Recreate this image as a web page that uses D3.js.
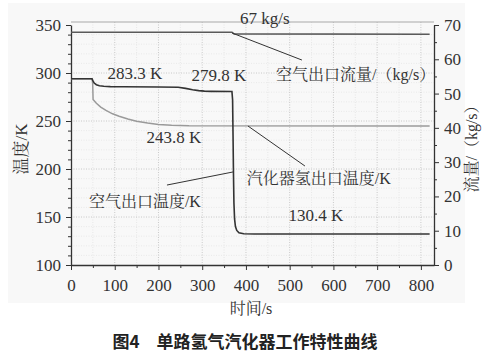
<!DOCTYPE html>
<html><head><meta charset="utf-8">
<script src="https://cdn.jsdelivr.net/npm/d3@7/dist/d3.min.js"></script>
<style>body{margin:0;background:#fff}svg{display:block}</style>
</head><body><svg id="c" width="496" height="362"></svg>
<script>
// ---- data ----
const h2Time = [0, 48, 50, 53, 58, 65, 75, 90, 120, 200, 245, 262, 278, 292, 305, 320, 368, 369.5, 370.5, 371.5, 372.5, 374, 376, 379, 384, 395, 420, 820];
const h2Temp = [294, 294, 292, 289.5, 287.8, 286.8, 286.2, 285.8, 285.6, 285.4, 285.1, 284, 282.6, 281.6, 281.1, 280.9, 280.7, 272, 235, 195, 165, 148, 140, 136, 133.5, 132.6, 132.3, 132.3];
const airTime = [0, 48, 49.5, 50.5, 58, 68, 80, 95, 110, 130, 150, 175, 200, 230, 270, 820];
const airTemp = [294, 294, 290, 272.5, 268.5, 264.5, 261, 257.5, 255, 252, 249.8, 247.8, 246.4, 245.5, 245, 244.8];
const flowTime = [0, 368, 373, 820];
const flowRate = [67.9, 67.9, 67.4, 67.3];
const xTicks = [0, 100, 200, 300, 400, 500, 600, 700, 800];
const leftTicks = [100, 150, 200, 250, 300, 350];
const rightTicks = [0, 10, 20, 30, 40, 50, 60, 70];
const valueLabels = ["67 kg/s", "283.3 K", "279.8 K", "243.8 K", "130.4 K"];
const seriesLabels = ["空气出口流量/（kg/s）", "汽化器氢出口温度/K", "空气出口温度/K"];
const axisTitles = ["温度/K", "流量/（kg/s）", "时间/s"];
const caption = "图4　单路氢气汽化器工作特性曲线";

// ---- layout ----
const svg = d3.select("#c");
const L = 71, R = 434, T = 25, B = 265;
const x = d3.scaleLinear().domain([0, 830]).range([L, R]);
const y = d3.scaleLinear().domain([100, 350]).range([B, T]);
const yR = d3.scaleLinear().domain([0, 70]).range([B, T]);
const txt = "#333";
const SF = '"Liberation Serif", "Noto Serif CJK SC"';

svg.append("rect").attr("x", 8).attr("y", 3).attr("width", 457).attr("height", 300).attr("fill", "#f8f8f8");

// grid
const g = svg.append("g");
g.selectAll(".vm").data(d3.range(50, 830, 100)).join("line")
  .attr("x1", d => x(d)).attr("x2", d => x(d)).attr("y1", T - 3).attr("y2", B)
  .attr("stroke", "#e2e2e2").attr("stroke-width", 0.8).attr("stroke-dasharray", "1,1.5");
g.selectAll(".hm").data(d3.range(110, 351, 10).filter(v => v % 50)).join("line")
  .attr("x1", L).attr("x2", R).attr("y1", d => y(d)).attr("y2", d => y(d))
  .attr("stroke", "#e6e6e6").attr("stroke-width", 0.8).attr("stroke-dasharray", "1,1.5");
g.selectAll(".vM").data(xTicks.slice(1)).join("line")
  .attr("x1", d => x(d)).attr("x2", d => x(d)).attr("y1", T - 3).attr("y2", B)
  .attr("stroke", "#c4c4c4").attr("stroke-width", 0.9).attr("stroke-dasharray", "1,1.5");
g.selectAll(".hM").data(leftTicks.slice(1, -1)).join("line")
  .attr("x1", L).attr("x2", R).attr("y1", d => y(d)).attr("y2", d => y(d))
  .attr("stroke", "#c4c4c4").attr("stroke-width", 0.9).attr("stroke-dasharray", "1,1.5");
svg.append("line").attr("x1", L).attr("x2", R).attr("y1", T - 3).attr("y2", T - 3).attr("stroke", "#a8a8a8").attr("stroke-width", 1);

// axes
function styleAxis(sel) {
  sel.attr("font-family", null).attr("font-size", null);
  sel.selectAll("path").attr("stroke", "#333").attr("stroke-width", 1.3);
  sel.selectAll("line").attr("stroke", "#333").attr("stroke-width", 1);
  sel.selectAll("text").style("font-family", SF).style("font-size", "17px").attr("fill", txt);
}
const xMinor = svg.append("g").attr("transform", `translate(0,${B})`)
  .call(d3.axisBottom(x).tickValues(d3.range(50, 830, 100)).tickSize(3).tickFormat("")).call(styleAxis);
xMinor.select("path").remove();
svg.append("g").attr("transform", `translate(0,${B})`)
  .call(d3.axisBottom(x).tickValues(xTicks).tickSize(5).tickSizeOuter(0).tickPadding(9).tickFormat(d3.format("d"))).call(styleAxis);

const yMinor = svg.append("g").attr("transform", `translate(${L},0)`)
  .call(d3.axisLeft(y).tickValues(d3.range(110, 351, 10).filter(v => v % 50)).tickSize(3).tickFormat("")).call(styleAxis);
yMinor.select("path").remove();
svg.append("g").attr("transform", `translate(${L},0)`)
  .call(d3.axisLeft(y).tickValues(leftTicks).tickSize(5).tickSizeOuter(0).tickPadding(5)).call(styleAxis);

const rMinor = svg.append("g").attr("transform", `translate(${R},0)`)
  .call(d3.axisRight(yR).tickValues(d3.range(5, 70, 10)).tickSize(3).tickFormat("")).call(styleAxis);
rMinor.select("path").remove();
svg.append("g").attr("transform", `translate(${R},0)`)
  .call(d3.axisRight(yR).tickValues(rightTicks).tickSize(5).tickSizeOuter(0).tickPadding(5)).call(styleAxis);

// series
const lineT = d3.line().x(d => x(d[0])).y(d => y(d[1]));
const lineR = d3.line().x(d => x(d[0])).y(d => yR(d[1]));
svg.append("path").datum(flowTime.map((t, i) => [t, flowRate[i]])).attr("d", lineR)
  .attr("fill", "none").attr("stroke", "#5a5a5a").attr("stroke-width", 1.6);
svg.append("path").datum(airTime.map((t, i) => [t, airTemp[i]])).attr("d", lineT)
  .attr("fill", "none").attr("stroke", "#9a9a9a").attr("stroke-width", 1.5);
svg.append("path").datum(h2Time.map((t, i) => [t, h2Temp[i]])).attr("d", lineT)
  .attr("fill", "none").attr("stroke", "#333").attr("stroke-width", 1.6);

// leaders
const leaders = [[[368, 341.7], [528, 313.5]], [[404.6, 244.8], [534.9, 203.1]], [[219.4, 183.3], [370.3, 196.9]]];
svg.selectAll(".ld").data(leaders).join("line")
  .attr("x1", d => x(d[0][0])).attr("y1", d => y(d[0][1]))
  .attr("x2", d => x(d[1][0])).attr("y2", d => y(d[1][1]))
  .attr("stroke", "#333").attr("stroke-width", 1);

// value labels
const vPos = [[443, 351.2], [146, 293.8], [338, 291.7], [235, 227.4], [560, 146]];
svg.selectAll(".vl").data(valueLabels).join("text")
  .attr("x", (d, i) => x(vPos[i][0])).attr("y", (d, i) => y(vPos[i][1]))
  .attr("text-anchor", "middle").style("font-family", SF).style("font-size", "17px").attr("fill", txt).text(d => d);

const sPos = [[469, 293], [402, 184.4], [41, 160.4]];
svg.selectAll(".sl").data(seriesLabels).join("text")
  .attr("x", (d, i) => x(sPos[i][0])).attr("y", (d, i) => y(sPos[i][1]))
  .style("font-family", SF).style("font-size", "16px").attr("fill", txt).text(d => d);

// axis titles
svg.append("text").attr("transform", "translate(27,149) rotate(-90)").attr("text-anchor", "middle")
  .style("font-family", SF).style("font-size", "17px").attr("fill", txt).text(axisTitles[0]);
svg.append("text").attr("transform", "translate(477,145) rotate(-90)").attr("text-anchor", "middle")
  .style("font-family", SF).style("font-size", "16px").attr("fill", txt).text(axisTitles[1]);
svg.append("text").attr("x", 251).attr("y", 314).attr("text-anchor", "middle")
  .style("font-family", SF).style("font-size", "16px").attr("fill", txt).text(axisTitles[2]);

svg.append("text").attr("x", 245).attr("y", 348).attr("text-anchor", "middle")
  .style("font-family", "'Noto Sans CJK SC',sans-serif").style("font-weight", "bold").style("font-size", "17px")
  .attr("fill", "#222").text(caption);
</script></body></html>
